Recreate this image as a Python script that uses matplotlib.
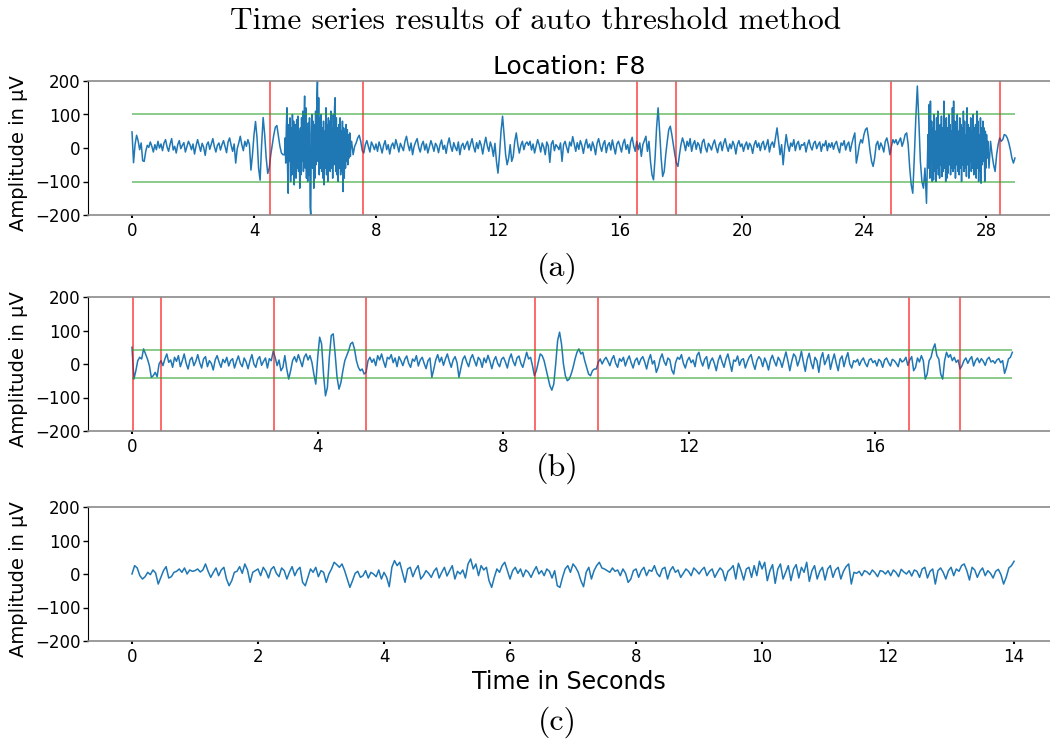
import numpy as np
import matplotlib
matplotlib.use("Agg")
import matplotlib.pyplot as plt

# ---- (a) F8, auto threshold --------------------------------------------
# calm parts at 20 Hz, the two artefact bursts at 50 Hz (one row per second
# or per 0.2 s in the bursts)
a_seg1 = [  # 0.00 - 4.95 s
    48, -44, 10, 38, 22, -5, 15, -38, -40, -10, 8, 2, 18, 5, -12, 10, -5, 20, 0, 12,
    -8, 15, 25, 3, -10, 12, 28, -6, 5, -15, 10, 22, -2, 8, 16, -12, 4, 20, 10, -5,
    12, -18, 6, 25, 8, -10, 14, 2, -22, 10, 18, -4, 12, 28, 4, -12, 8, 15, -6, 10,
    22, 5, -14, 18, 30, 8, -10, 12, -45, -2, 15, 35, 10, -8, 20, 5, 25, 10, -66, -20,
    40, 79, 30, -60, -96, 10, 91, 40, -30, -76, -60, -20, 10, 40, 62, 67, 35, 5, -15, -20,
]
a_burst1 = [  # 5.00 - 7.18 s
    -20, 30, -45, 60, 120, -60, -135, 70, -40, 90,
    -100, 60, -80, 100, -50, 80, -110, 40, 70, -90,
    85, -60, 95, -70, 50, -120, 60, -80, 90, -40,
    110, -70, 80, 155, -60, 120, -90, 60, -100, 75,
    -80, 90, -175, -200, 40, 100, -60, 80, -120, 70,
    -90, 110, -50, 140, 200, -40, 150, -80, 90, -60,
    100, -70, 60, -90, 80, -110, 50, -60, 120, -80,
    70, -100, 90, -50, 80, -70, 110, -60, 60, -90,
    100, -50, 120, 150, -70, 90, -80, 60, -100, 70,
    -60, 90, -80, 50, -70, 80, -130, 60, -90, 50,
    -60, 70, -40, 55, -50, 40, -30, 45, -25, 20,
]
a_seg2 = [  # 7.20 - 26.05 s
    20, -20, 5, 15, 30, 38, 20, -8, -15, 10, 22, 5, -12, 18, 8, -5,
    12, -10, 18, 4, -15, 8, 22, -5, 10, -18, 6, 15, -2, 25, 8, -12, 14, 3, -8, 20,
    35, 10, -8, 15, -20, 5, 18, 28, 2, -12, 10, 20, -6, 12, -15, 4, 22, 8, -10, 14,
    6, -14, 10, 24, -4, 8, -16, 12, 30, 5, -10, 16, 2, -8, 18, -20, 6, 14, -4, 10,
    20, -6, 12, 28, 4, -12, 16, -2, 22, 8, -18, 10, 32, 6, -10, 18, 2, -25, 14, -40,
    -75, -20, 50, 95, 40, -20, -50, -30, 10, -40, -25, 20, 45, 10, -15, 8, 20, -5, 12, 18,
    8, 20, -6, 12, -15, 5, 25, 10, -12, 15, 3, -20, 18, 6, -43, 12, 22, -8, 10, 4,
    -5, 15, -40, 10, 20, 2, -14, 18, 6, 34, 12, -10, 16, -4, 22, 8, -16, 10, 26, 0,
    12, -8, 18, 4, -20, 14, 28, 6, -10, 12, 22, -14, 8, 16, -6, 24, 2, -18, 12, 20,
    5, -12, 14, 26, -4, 10, -16, 18, 32, 6, -10, 20, -5, 15, -25, 10, 22, 35, -10, 20,
    -40, -80, -95, -30, 60, 120, 50, -30, -85, -70, -20, 20, 55, 65, 40, 10, -20, -45, -55, -20,
    10, 30, 15, -8, 20, 5, 28, -10, 12, 22, -4, 16, 8, -15, 18, 26, 2, -12, 14, 6,
    -6, 12, 24, 3, -14, 10, 18, -8, 14, 28, 5, -10, 12, -2, 20, 8, -18, 10, 22, 4,
    12, -10, 8, 18, -4, 14, 6, -16, 10, 22, 2, 15, -8, 12, 20, -5, 8, 25, -12, 10,
    18, 2, 30, 60, 20, -20, 10, -50, 0, 40, 10, -10, 15, 5, 25, -8, 12, 20, -5, 10,
    8, 16, -12, 10, 24, 4, -6, 14, 20, -2, 10, 18, -10, 12, 6, 22, -8, 14, 2, 16,
    -4, 12, 20, 0, -14, 15, 8, 22, -6, 10, 18, -10, 12, 30, 45, -45, -20, 10, 25, 15,
    40, 55, 60, 30, -10, -40, -55, -30, 10, 20, -5, 15, 5, -12, 20, 30, 10, -20, 5, 25,
    15, 25, 10, 20, 30, 5, 20, 40, 45, 10, -60, -110, -135, -30, 90, 185, 80, -40, -100, -120,
    -60, -165,
]
a_burst2 = [  # 26.10 - 28.08 s
    40, -60, 130, -90, 140, -40, 80, -100, 60, -95,
    100, -70, 50, -100, 90, -60, 110, -80, 40, -90,
    70, -50, 95, -85, 60, -70, 140, -60, 80, -100,
    90, -90, 60, -75, 100, -50, 70, -80, 50, -60,
    120, -70, 140, -60, 80, -90, 60, -50, 100, -70,
    50, -80, 90, -60, 70, -100, 60, -50, 110, -70,
    80, -60, 40, -85, 120, -50, 70, -90, 60, -40,
    90, -70, 50, -60, 100, -80, 60, -50, 70, -90,
    110, -60, 80, -100, 40, -70, 90, -105, 60, -50,
    80, -40, 60, -100, 50, -60, 40, -30, 20, -20,
]
a_seg3 = [  # 28.10 - 28.95 s
    -60, 20, -20, -50, -70, -20, 10, 30, 20, 25, 40, 38, 30, 15, -5, -30, -45, -30,
]
# (start time s, sampling rate Hz, values)
parts_a = [(0.0, 20, a_seg1), (5.0, 50, a_burst1), (7.2, 20, a_seg2),
           (26.1, 50, a_burst2), (28.1, 20, a_seg3)]

# ---- (b) 24 Hz, one row per second ---------------------------------------
fs_b = 24
sig_b = [
    50, -45, -20, 10, 20, 15, 45, 30, 15, -5, -40, -35, -25, -38, 0, 10, -5, 15, 30, 5, 12, -10, 20, 8,
    25, -8, 10, 30, 2, -15, 12, 20, -5, 8, 28, 4, -12, 15, 22, -8, 10, 2, -18, 12, 25, 6, -10, 14,
    4, 20, -6, 10, 16, -12, 8, 24, 2, -8, 18, 6, -14, 10, 28, 0, -10, 14, 22, -4, 8, 18, -12, 16,
    10, 38, 20, -5, 12, -20, -10, 25, -15, -45, -20, 10, 22, 6, 28, 10, -8, 20, 30, 12, 25, 5, -30, -60,
    20, 80, 60, -30, -95, -70, 20, 85, 90, 30, -40, -75, -55, -20, 10, 25, 40, 60, 65, 45, 10, -10, -20, -15,
    -30, -25, 10, 20, 5, 15, -5, 25, 12, 30, 8, -10, 20, 15, 28, 4, 18, -8, 22, 10, -5, 14, 24, 2,
    -10, 15, 8, 25, -6, 12, 20, 2, -14, 10, 18, -40, -15, 12, 28, 6, 20, -4, 15, 30, 8, -10, 12, 22,
    4, -40, -12, 14, 24, 6, -8, 16, 28, 10, -6, 20, 12, -10, 18, 4, 26, 8, -14, 10, 22, 2, -8, 14,
    20, 6, -12, 15, 30, 8, -5, 18, 24, 2, -10, 12, 35, 15, 20, -5, -35, -20, 5, 30, 25, 10, -15, -40,
    -65, -78, -60, 0, 70, 95, 60, 0, -35, -50, -45, -30, -10, 15, 35, 45, 30, 35, 10, -10, -30, -35, -20, -15,
    -15, 5, 15, 0, 12, 20, 8, -5, 14, 25, 2, -10, 16, 8, 20, -6, 12, 24, 4, -12, 10, 18, -2, 14,
    22, 6, -15, 12, 28, 0, 10, -25, -10, 16, 30, 8, -4, 18, 12, -18, -30, 5, 20, 14, 28, 2, -12, 10,
    20, 4, 12, -8, 25, 35, 10, -6, 14, 22, -14, 8, 18, 2, -20, 10, 26, 6, -10, 15, 30, 4, -22, 12,
    8, 24, -4, 12, 16, -12, 6, 20, 28, 2, -16, 10, 22, 14, -8, 18, 4, -18, 12, 26, 8, -6, 20, 10,
    -10, 14, 36, 10, -20, 8, 30, 22, -6, 12, 38, 6, -22, 14, 32, 4, -14, 20, 10, -25, 16, 34, -2, 12,
    28, -16, 10, 30, 2, -20, 14, 24, -8, 16, 34, 0, -12, 10, 6, 14, -4, 10, 18, 2, -8, 12, 16, 4,
    10, -6, 14, 8, -10, 12, 18, 4, -6, 14, 10, 2, -8, 16, 6, 10, 20, -4, 12, 22, -20, -10, 18, 6,
    25, 10, -45, -30, 10, 20, 45, 60, 25, 15, -30, -45, 10, 35, 20, 28, 10, 20, 5, 12, -15, -5, 10, 18,
    2, 14, 22, -6, 10, 18, 4, 16, 8, -4, 14, 20, 6, 10, 2, 12, 16, 4, 10, -28, -10, 15, 20, 35,
]

# ---- (c) 24 Hz, one row per second, plus the last sample at 14 s ---------
fs_c = 24
sig_c = [
    0, 25, 18, -5, -15, -8, 5, -2, 12, 3, -30, -10, 10, 22, -12, -8, 5, 8, 15, 5, 18, 0, 12, 8,
    10, 15, 6, 12, 30, 8, -10, 5, 18, -5, 12, 20, -15, -35, -20, 5, 8, 22, 2, 30, 12, -25, 5, 10,
    15, -5, 20, 8, -12, 14, 22, 2, -8, 18, 10, -15, 6, 22, -5, 12, 20, -25, -35, -10, 15, 5, 20, -8,
    10, 5, -25, 0, 15, 35, 28, 20, 30, 10, -15, -40, -20, 2, 8, -10, -5, 10, -12, 5, 0, -8, 12, -15,
    5, -10, -38, 20, 40, 25, 35, 5, -25, 15, 20, -8, 12, 25, -15, -5, 10, 2, -10, 8, 18, -12, 5, 20,
    -6, 10, 25, -15, 8, 0, 12, -12, 30, 45, 15, 30, -5, 25, 12, 20, -20, -40, -10, 15, 5, 25, 35, 10,
    -15, 10, 20, 2, 15, -8, 12, 5, -10, 8, 22, 0, 10, -5, 15, 8, -12, 10, -35, -40, -10, 15, 25, 5,
    30, 20, 5, -20, -38, 5, 20, -15, 10, 25, 35, 18, 15, 10, 5, 18, 8, 12, -5, 15, 2, -25, -15, 10,
    15, -10, 10, 20, -5, 12, 8, 25, 2, -8, 15, 20, -15, 10, 22, 5, 12, -10, 2, 15, 8, -5, 18, 10,
    0, 12, 20, -5, 8, 15, -10, 5, 18, 10, -20, 8, 15, 25, -15, 32, 10, -18, 15, 20, -10, 25, -5, 38,
    15, 35, -20, 10, 28, -28, 15, 30, -15, 5, 25, -20, 15, 28, -12, 20, 5, 35, -22, 10, 25, -15, 8, 20,
    -18, 15, 25, -10, 12, 20, -15, 8, 22, 30, -30, 5, 2, 8, -5, 10, 6, -2, 12, 4, -8, 10, 8, 0,
    10, -5, 12, 5, -8, 14, 6, 0, 10, -6, 12, 8, -10, 15, 20, -12, 8, 15, -30, 10, 18, 5, -15, 10,
    20, -5, 15, 8, 25, 30, 10, -18, 20, 12, -10, 8, 18, -5, 10, 2, -12, 8, 14, -2, -30, -10, 18, 25,
    38,
]

# detected segment borders (s) and thresholds (µV)
marks_a = [4.52, 7.57, 16.56, 17.84, 24.89, 28.46]
marks_b = [0.02, 0.62, 3.05, 5.05, 8.67, 10.04, 16.73, 17.83]
thr_a = 100
thr_b = 42

t_a = np.concatenate([t0 + np.arange(len(v)) / fs for t0, fs, v in parts_a])
y_a = np.concatenate([v for _, _, v in parts_a])
t_b = np.arange(len(sig_b)) / fs_b
t_c = np.arange(len(sig_c)) / fs_c

plt.rcParams['font.family'] = ['DejaVu Sans']

fig = plt.figure(figsize=(10.5, 7.41), dpi=100)

W, H = 1050, 741
def add_panel(top, bottom):
    return fig.add_axes([88 / W, 1 - bottom / H, (W - 88) / W, (bottom - top) / H])

ax_a = add_panel(81, 215)
ax_b = add_panel(297, 431)
ax_c = add_panel(507, 641)

panels = [
    (ax_a, t_a, y_a, (-1.443, 30.10), np.arange(0, 29, 4), marks_a, thr_a),
    (ax_b, t_b, sig_b, (-0.947, 19.77), np.arange(0, 19, 4), marks_b, thr_b),
    (ax_c, t_c, sig_c, (-0.698, 14.57), np.arange(0, 15, 2), [], None),
]

for ax, t, y, xlim, xt, marks, thr in panels:
    ax.plot(t, y, color='#1f77b4', lw=1.1)
    for m in marks:
        ax.axvline(m, color='red', lw=1.1, alpha=0.75)
    if thr is not None:
        ax.hlines([thr, -thr], 0, t[-1], color='#2ca02c', lw=1.4, alpha=0.55)
    ax.set_xlim(*xlim)
    ax.set_ylim(-200, 200)
    ax.set_yticks([-200, -100, 0, 100, 200])
    ax.set_xticks(xt)
    ax.tick_params(axis='y', labelsize=12, length=3.5, width=1, pad=2)
    ax.tick_params(axis='x', labelsize=12, length=2, width=1.5, pad=3)
    ax.spines['right'].set_visible(False)
    for s in ['top', 'bottom']:
        ax.spines[s].set_color('#8a8a8a')
        ax.spines[s].set_linewidth(1.2)
    ax.spines['left'].set_color('black')
    ax.spines['left'].set_linewidth(0.8)
    ax.set_ylabel('Amplitude in µV', fontsize=14)
    ax.yaxis.set_label_coords(-0.062, 0.46)

ax_a.set_title('Location: F8', fontsize=18, pad=5)
ax_c.set_xlabel('Time in Seconds', fontsize=17, labelpad=3)

fig.text(536 / W, 1 - 21 / H, 'Time series results of auto threshold method',
         family='cmr10', fontsize=22.5, ha='center', va='center')
for lab, yc in [('(a)', 268), ('(b)', 468), ('(c)', 722)]:
    fig.text(557 / W, 1 - yc / H, lab, family='cmr10', fontsize=23, ha='center', va='center')

fig.savefig('out.png', dpi=100)
